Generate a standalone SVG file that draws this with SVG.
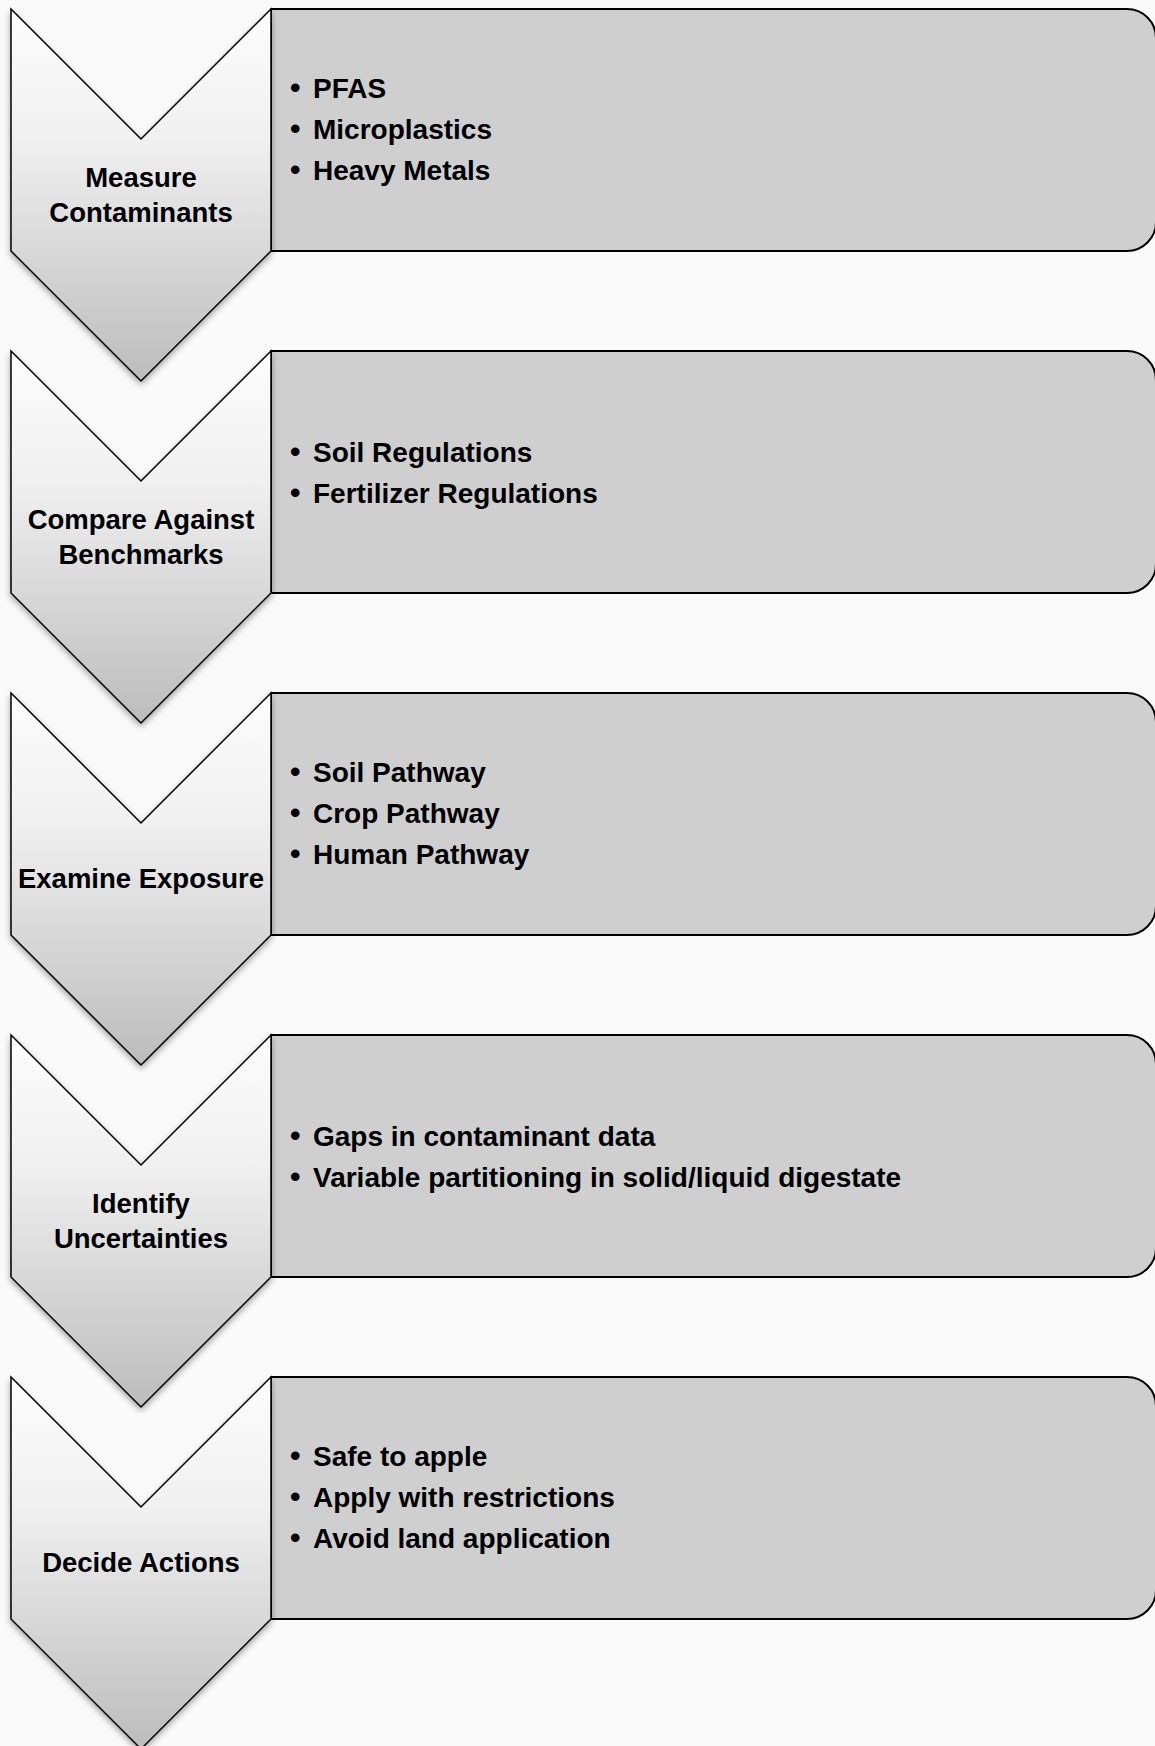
<svg xmlns="http://www.w3.org/2000/svg" width="1155" height="1746" viewBox="0 0 1155 1746">
<defs>
<linearGradient id="cg" x1="0" y1="0" x2="0" y2="1">
<stop offset="0" stop-color="#fdfdfd"/>
<stop offset="0.35" stop-color="#f0f0f0"/>
<stop offset="1" stop-color="#bcbcbc"/>
</linearGradient>
<filter id="sh" x="-10%" y="-10%" width="120%" height="120%">
<feDropShadow dx="0" dy="3" stdDeviation="3" flood-color="#000" flood-opacity="0.35"/>
</filter>
<path id="chev" d="M11,0 L141,130 L271,0 L271,242 L141,372 L11,242 Z"/>
<path id="box" d="M271,0 H1127 A29,29 0 0 1 1156,29 V213 A29,29 0 0 1 1127,242 H271 Z"/>
</defs>
<style>
.chev{fill:url(#cg);stroke:#000;stroke-width:1.5;filter:url(#sh)}
.box{fill:#cfcfcf;stroke:#000;stroke-width:2}
text{font-family:"Liberation Sans",Arial,sans-serif;font-weight:bold;font-size:28px;fill:#000}
.lbl{text-anchor:middle;font-size:27.5px}
.b{font-size:30px}
</style>
<rect width="1155" height="1746" fill="#fafafa"/>
<g id="connectors"></g>

<g id="step1" transform="translate(0,9)">
<use href="#box" class="box"/>
<use href="#chev" class="chev"/>
<text class="lbl" x="141" y="177.5">Measure</text>
<text class="lbl" x="141" y="212.5">Contaminants</text>
<text y="89"><tspan class="b" x="290">•</tspan><tspan x="313">PFAS</tspan></text>
<text y="130"><tspan class="b" x="290">•</tspan><tspan x="313">Microplastics</tspan></text>
<text y="171"><tspan class="b" x="290">•</tspan><tspan x="313">Heavy Metals</tspan></text>
</g>

<g id="step2" transform="translate(0,351)">
<use href="#box" class="box"/>
<use href="#chev" class="chev"/>
<text class="lbl" x="141" y="177.5">Compare Against</text>
<text class="lbl" x="141" y="212.5">Benchmarks</text>
<text y="110.5"><tspan class="b" x="290">•</tspan><tspan x="313">Soil Regulations</tspan></text>
<text y="151.5"><tspan class="b" x="290">•</tspan><tspan x="313">Fertilizer Regulations</tspan></text>
</g>

<g id="step3" transform="translate(0,693)">
<use href="#box" class="box"/>
<use href="#chev" class="chev"/>
<text class="lbl" x="141" y="195">Examine Exposure</text>
<text y="89"><tspan class="b" x="290">•</tspan><tspan x="313">Soil Pathway</tspan></text>
<text y="130"><tspan class="b" x="290">•</tspan><tspan x="313">Crop Pathway</tspan></text>
<text y="171"><tspan class="b" x="290">•</tspan><tspan x="313">Human Pathway</tspan></text>
</g>

<g id="step4" transform="translate(0,1035)">
<use href="#box" class="box"/>
<use href="#chev" class="chev"/>
<text class="lbl" x="141" y="177.5">Identify</text>
<text class="lbl" x="141" y="212.5">Uncertainties</text>
<text y="110.5"><tspan class="b" x="290">•</tspan><tspan x="313">Gaps in contaminant data</tspan></text>
<text y="151.5"><tspan class="b" x="290">•</tspan><tspan x="313">Variable partitioning in solid/liquid digestate</tspan></text>
</g>

<g id="step5" transform="translate(0,1377)">
<use href="#box" class="box"/>
<use href="#chev" class="chev"/>
<text class="lbl" x="141" y="195">Decide Actions</text>
<text y="89"><tspan class="b" x="290">•</tspan><tspan x="313">Safe to apple</tspan></text>
<text y="130"><tspan class="b" x="290">•</tspan><tspan x="313">Apply with restrictions</tspan></text>
<text y="171"><tspan class="b" x="290">•</tspan><tspan x="313">Avoid land application</tspan></text>
</g>
</svg>
